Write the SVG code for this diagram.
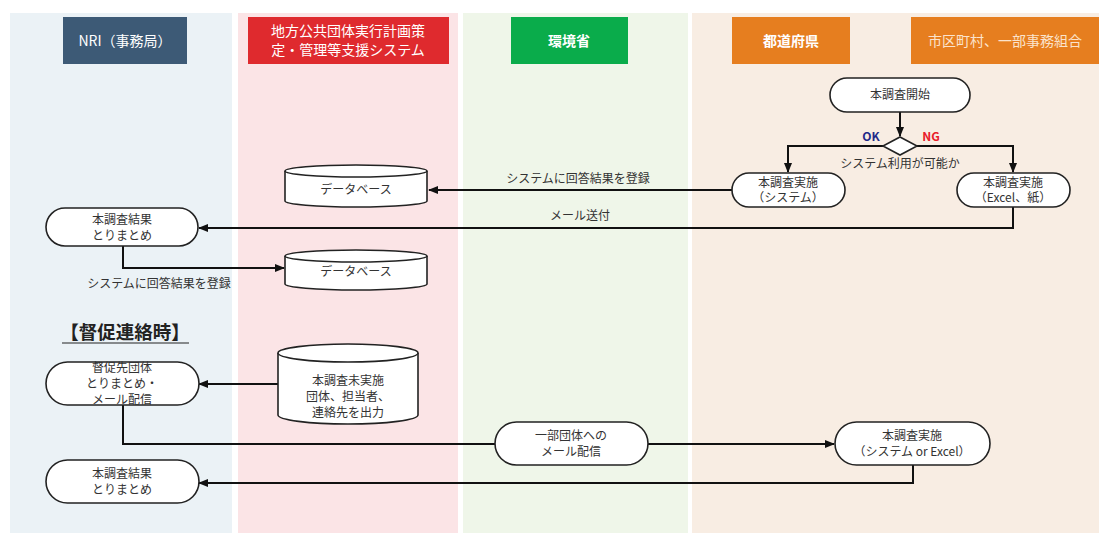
<svg xmlns="http://www.w3.org/2000/svg" width="1099" height="534" viewBox="0 0 1099 534">
<style>
text{font-family:"Noto Sans CJK JP","Noto Sans",sans-serif;fill:#333;font-size:12px;text-anchor:middle}
.hd{fill:#fff;font-size:14px}
.node{fill:#fff;stroke:#222;stroke-width:1.6}
.cn{fill:none;stroke:#111;stroke-width:2}
</style>
<defs>
<marker id="ah" markerWidth="10" markerHeight="8" refX="9" refY="4" orient="auto" markerUnits="userSpaceOnUse">
<path d="M0,0 L10,4 L0,8 z" fill="#111"/>
</marker>
</defs>
<rect width="1099" height="534" fill="#fff"/>
<g id="lanes">
<rect x="10" y="13" width="222" height="520" fill="#ebf2f6"/>
<rect x="238" y="13" width="220" height="520" fill="#fbe4e6"/>
<rect x="463" y="13" width="225" height="520" fill="#eff6e9"/>
<rect x="692" y="13" width="407" height="520" fill="#f8ede3"/>
</g>
<g id="headers">
<rect x="63" y="17" width="124" height="47" fill="#3d5a76"/>
<text class="hd" x="125" y="46">NRI（事務局）</text>
<rect x="248" y="17" width="201" height="47" fill="#df2a2e"/>
<text class="hd" x="348" y="36">地方公共団体実行計画策</text>
<text class="hd" x="348" y="55">定・管理等支援システム</text>
<rect x="511" y="17" width="117" height="47" fill="#0aac4b"/>
<text class="hd" x="569" y="46" font-weight="bold">環境省</text>
<rect x="732" y="17" width="118" height="47" fill="#e67e1f"/>
<text class="hd" x="791" y="46" font-weight="bold">都道府県</text>
<rect x="911" y="17" width="188" height="47" fill="#e67e1f"/>
<text class="hd" x="1005" y="46" style="fill:#fbe3cc">市区町村、一部事務組合</text>
</g>
<g id="connectors">
<path class="cn" d="M900,112 V136" marker-end="url(#ah)"/>
<path class="cn" d="M883,146 H788 V172" marker-end="url(#ah)"/>
<path class="cn" d="M917,146 H1013 V172" marker-end="url(#ah)"/>
<path class="cn" d="M732,190 H429" marker-end="url(#ah)"/>
<path class="cn" d="M1013,207 V228 H199" marker-end="url(#ah)"/>
<path class="cn" d="M123,246 V268 H284" marker-end="url(#ah)"/>
<path class="cn" d="M278,384 H199" marker-end="url(#ah)"/>
<path class="cn" d="M123,405 V444 H495"/>
<path class="cn" d="M648,444 H834" marker-end="url(#ah)"/>
<path class="cn" d="M913,465 V483 H199" marker-end="url(#ah)"/>
<text x="578" y="183">システムに回答結果を登録</text>
<text x="580" y="220">メール送付</text>
<text x="159" y="288">システムに回答結果を登録</text>
<text x="871" y="141" font-weight="bold" style="fill:#1f2a8a">OK</text>
<text x="931" y="141" font-weight="bold" style="fill:#e8202a">NG</text>
<text x="900" y="168">システム利用が可能か</text>
</g>
<g id="n-start">
<rect class="node" x="830" y="78" width="140" height="34" rx="17"/>
<text x="900" y="99">本調査開始</text>
</g>
<g id="n-decision">
<path class="node" d="M900,137 L917,146 L900,155 L883,146 z"/>
</g>
<g id="n-sys">
<rect class="node" x="732" y="173" width="113" height="34" rx="17"/>
<text x="788" y="187">本調査実施</text>
<text x="788" y="202">（システム）</text>
</g>
<g id="n-excel">
<rect class="node" x="957" y="173" width="113" height="34" rx="17"/>
<text x="1013" y="187">本調査実施</text>
<text x="1013" y="202">（Excel、紙）</text>
</g>
<g id="n-db1">
<path class="node" d="M285,171 V201 A71,6 0 0 0 427,201 V171"/>
<ellipse class="node" cx="356" cy="171" rx="71" ry="6"/>
<text x="356" y="194">データベース</text>
</g>
<g id="n-result1">
<rect class="node" x="46" y="208" width="152" height="38" rx="19"/>
<text x="122" y="224">本調査結果</text>
<text x="122" y="240">とりまとめ</text>
</g>
<g id="n-db2">
<path class="node" d="M285,256 V284 A71,6 0 0 0 427,284 V256"/>
<ellipse class="node" cx="356" cy="256" rx="71" ry="6"/>
<text x="356" y="276">データベース</text>
</g>
<g id="title">
<text x="125" y="339" font-weight="bold" style="font-size:18.5px;fill:#222">【督促連絡時】</text>
<line x1="62" y1="343" x2="189" y2="343" stroke="#222" stroke-width="1.2"/>
</g>
<g id="n-remind">
<rect class="node" x="46" y="362" width="153" height="43" rx="21.5"/>
<text x="122" y="372">督促先団体</text>
<text x="122" y="388">とりまとめ・</text>
<text x="122" y="404">メール配信</text>
</g>
<g id="n-db3">
<path class="node" d="M278,353 V415 A70,9 0 0 0 418,415 V353"/>
<ellipse class="node" cx="348" cy="353" rx="70" ry="9"/>
<text x="348" y="385">本調査未実施</text>
<text x="348" y="401">団体、担当者、</text>
<text x="348" y="417">連絡先を出力</text>
</g>
<g id="n-mail">
<rect class="node" x="495" y="422" width="153" height="43" rx="21.5"/>
<text x="571" y="440">一部団体への</text>
<text x="571" y="456">メール配信</text>
</g>
<g id="n-survey">
<rect class="node" x="835" y="422" width="155" height="43" rx="21.5"/>
<text x="912" y="440">本調査実施</text>
<text x="912" y="456">（システム or Excel）</text>
</g>
<g id="n-result2">
<rect class="node" x="46" y="460" width="153" height="43" rx="21.5"/>
<text x="122" y="478">本調査結果</text>
<text x="122" y="494">とりまとめ</text>
</g>
</svg>
